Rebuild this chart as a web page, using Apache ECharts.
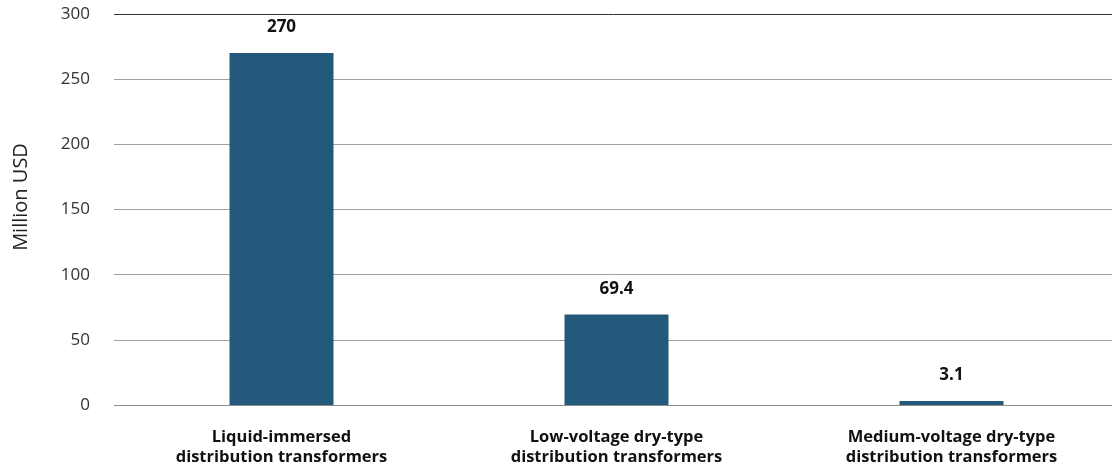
<!DOCTYPE html>
<html>
<head>
<meta charset="utf-8">
<script src="https://cdn.jsdelivr.net/npm/echarts@6/dist/echarts.min.js"></script>
<style>html,body{margin:0;padding:0;background:#fff}#c{width:1112px;height:470px}</style>
</head>
<body>
<div id="c"></div>
<script>
const categories = ['Liquid-immersed\ndistribution transformers', 'Low-voltage dry-type\ndistribution transformers', 'Medium-voltage dry-type\ndistribution transformers'];
const values = [270, 69.4, 3.1];
const yTicks = [0, 50, 100, 150, 200, 250, 300];
const yTitle = 'Million USD';

const chart = echarts.init(document.getElementById('c'));
const FONT = '"Open Sans", "Noto Sans", sans-serif';
chart.setOption({
  animation: false,
  textStyle: { fontFamily: FONT },
  grid: { left: 114, top: 14, bottom: 65, width: 1005, outerBoundsMode: 'none', containLabel: false },
  graphic: [{
    type: 'text',
    x: 21, y: 197,
    rotation: Math.PI / 2,
    style: { text: yTitle, fill: '#222', font: '20px ' + FONT, align: 'center', verticalAlign: 'middle' }
  }],
  xAxis: {
    type: 'category',
    data: categories,
    axisLine: { show: false },
    axisTick: { show: false },
    axisLabel: { color: '#111', fontWeight: 'bold', fontSize: 16.5, lineHeight: 20, margin: 22, fontFamily: FONT }
  },
  yAxis: {
    type: 'value',
    min: yTicks[0],
    max: yTicks[yTicks.length - 1],
    interval: 50,
    axisLine: { show: false },
    axisTick: { show: false },
    axisLabel: { color: '#333', fontSize: 17, margin: 24, fontFamily: FONT },
    splitLine: { lineStyle: { color: ['#8c8c8c', '#a0a0a0', '#a0a0a0', '#a0a0a0', '#a0a0a0', '#a0a0a0', '#333'], width: 1 } }
  },
  series: [{
    type: 'bar',
    data: values,
    barWidth: 104,
    itemStyle: { color: '#235a7b' },
    label: { show: true, position: 'top', distance: 17, color: '#111', fontWeight: 'bold', fontSize: 17, fontFamily: FONT }
  }]
});
</script>
</body>
</html>
